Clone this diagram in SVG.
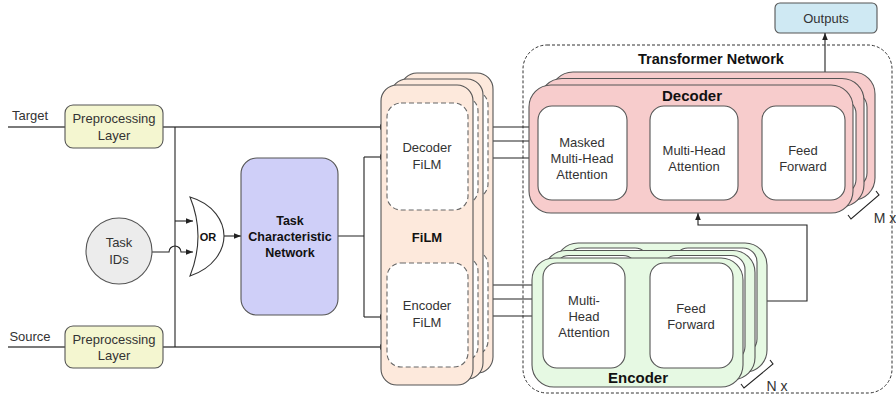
<svg xmlns="http://www.w3.org/2000/svg" xmlns:xlink="http://www.w3.org/1999/xlink" width="896" height="398" viewBox="0 0 896 398">
<style>
text{font-family:"Liberation Sans",Arial,sans-serif;fill:#333;text-anchor:middle}
.t13{font-size:13px}
.b{font-weight:bold;fill:#111}
.ln{fill:none;stroke:#222;stroke-width:1.1}
.main{fill:none;stroke:#7a7a7a;stroke-width:1.8}
.dash{fill:#fff;stroke:#666;stroke-width:1.1;stroke-dasharray:5,3}
.box{stroke:#555;stroke-width:1.1}
.wb{fill:#fff;stroke:#555;stroke-width:1.1}
</style>
<defs>
<marker id="ah" viewBox="0 0 8 8" refX="8" refY="4" markerWidth="7" markerHeight="7" markerUnits="userSpaceOnUse" orient="auto">
<path d="M0,0.8 L8,4 L0,7.2 Z" fill="#222"/>
</marker>
<g id="filmLayer">
<rect class="box" x="381" y="85" width="92" height="300" rx="16" fill="#fde9dc"/>
<rect class="dash" x="387" y="103" width="81" height="107" rx="14"/>
<rect class="dash" x="387" y="263" width="81" height="104" rx="14"/>
</g>
<g id="decLayer">
<rect class="box" x="529" y="85" width="324" height="128" rx="22" fill="#f7cccc"/>
<rect class="wb" x="538" y="106" width="89" height="94" rx="14"/>
<rect class="wb" x="650" y="106" width="88" height="94" rx="14"/>
<rect class="wb" x="762" y="106" width="83" height="94" rx="14"/>
</g>
<g id="encLayer">
<rect class="box" x="532" y="258" width="211" height="129" rx="22" fill="#e6f9e3"/>
<rect class="wb" x="543" y="263" width="82" height="105" rx="14"/>
<rect class="wb" x="650" y="263" width="83" height="105" rx="14"/>
</g>
</defs>

<g id="transformer-boundary">
<rect x="523" y="45" width="369" height="348" rx="24" fill="none" stroke="#333" stroke-width="1" stroke-dasharray="3,2"/>
<text class="b" x="711" y="64" style="font-size:14.5px">Transformer Network</text>
</g>

<g id="outputs">
<rect class="box" x="775" y="3" width="102" height="30" rx="5" fill="#cfe9f3"/>
<text class="t13" x="826" y="23">Outputs</text>
</g>

<g id="target-label"><text class="t13" x="30" y="120">Target</text></g>
<g id="source-label"><text class="t13" x="30" y="341">Source</text></g>

<g id="connectors">
<path class="main" d="M8,127 H65"/>
<path class="main" d="M163,127 H387" marker-end="url(#ah)"/>
<path class="main" d="M8,347 H65"/>
<path class="main" d="M163,347 H387" marker-end="url(#ah)"/>
<path class="ln" d="M175,127 V347"/>
<path class="ln" d="M175,221 H193" marker-end="url(#ah)"/>
<path class="ln" d="M152,252 H169 A6,6 0 0 1 181,252 H193" marker-end="url(#ah)"/>
<path class="ln" d="M224,236 H241" marker-end="url(#ah)"/>
<path class="ln" d="M338,236 H364 M364,157 V317"/>
<path class="ln" d="M364,157 H387" marker-end="url(#ah)"/>
<path class="ln" d="M364,317 H387" marker-end="url(#ah)"/>
<path class="ln" d="M490,127 H529 M478,141 H529"/>
<path class="ln" d="M468,158 H538" marker-end="url(#ah)"/>
<path class="ln" d="M489,285 H532 M478,299 H532"/>
<path class="ln" d="M468,316 H543" marker-end="url(#ah)"/>
<path class="ln" d="M767,301 H807 V225 H698 V213" marker-end="url(#ah)"/>
<path class="ln" d="M825,72 V33" marker-end="url(#ah)"/>
<path class="ln" d="M627,157 H650" marker-end="url(#ah)"/>
<path class="ln" d="M738,157 H762" marker-end="url(#ah)"/>
<path class="ln" d="M625,316 H650" marker-end="url(#ah)"/>
</g>

<g id="target-preprocessing">
<rect class="box" x="65" y="105" width="98" height="43" rx="8" fill="#f4f6d0"/>
<text class="t13" x="114" y="123">Preprocessing</text>
<text class="t13" x="114" y="140">Layer</text>
</g>

<g id="source-preprocessing">
<rect class="box" x="65" y="326" width="98" height="42" rx="8" fill="#f4f6d0"/>
<text class="t13" x="114" y="344">Preprocessing</text>
<text class="t13" x="114" y="360">Layer</text>
</g>

<g id="task-ids">
<circle cx="119" cy="251" r="33" fill="#ececec" stroke="#555" stroke-width="1.1"/>
<text class="t13" x="119" y="247">Task</text>
<text class="t13" x="119" y="264">IDs</text>
</g>

<g id="or-gate">
<path d="M190,197 C214,204 224,222 224,236 C224,250 214,268 190,276 Q206,236 190,197 Z" fill="#fff" stroke="#333" stroke-width="1.1"/>
<text class="b" x="208" y="241" style="font-size:11px">OR</text>
</g>

<g id="task-characteristic-network">
<rect class="box" x="241" y="158" width="97" height="157" rx="16" fill="#cfcff8"/>
<text class="b" x="290" y="225" style="font-size:12.5px">Task</text>
<text class="b" x="290" y="241" style="font-size:12.5px">Characteristic</text>
<text class="b" x="290" y="257" style="font-size:12.5px">Network</text>
</g>

<g id="film">
<use xlink:href="#filmLayer" transform="translate(20,-12)"/>
<use xlink:href="#filmLayer" transform="translate(10,-6)"/>
<use xlink:href="#filmLayer"/>
<text class="t13" x="427" y="152">Decoder</text>
<text class="t13" x="427" y="169">FiLM</text>
<text class="b" x="427" y="242" style="font-size:13px">FiLM</text>
<text class="t13" x="427" y="310">Encoder</text>
<text class="t13" x="427" y="327">FiLM</text>
</g>

<g id="decoder">
<use xlink:href="#decLayer" transform="translate(22,-13)"/>
<use xlink:href="#decLayer" transform="translate(11,-6.5)"/>
<use xlink:href="#decLayer"/>
<text class="b" x="692" y="101" style="font-size:15px">Decoder</text>
<text class="t13" x="582" y="147">Masked</text>
<text class="t13" x="582" y="163">Multi-Head</text>
<text class="t13" x="582" y="179">Attention</text>
<text class="t13" x="694" y="155">Multi-Head</text>
<text class="t13" x="694" y="171">Attention</text>
<text class="t13" x="803" y="155">Feed</text>
<text class="t13" x="803" y="171">Forward</text>
<path class="ln" d="M848,215 L851,219 L879,195 L876,191"/>
<text class="t13" x="885" y="223" style="font-size:14px">M x</text>
</g>

<g id="encoder">
<use xlink:href="#encLayer" transform="translate(24,-15)"/>
<use xlink:href="#encLayer" transform="translate(12,-7.5)"/>
<use xlink:href="#encLayer"/>
<text class="b" x="638" y="383" style="font-size:15px">Encoder</text>
<text class="t13" x="584" y="305">Multi-</text>
<text class="t13" x="584" y="321">Head</text>
<text class="t13" x="584" y="337">Attention</text>
<text class="t13" x="691" y="313">Feed</text>
<text class="t13" x="691" y="329">Forward</text>
<path class="ln" d="M741,384 L744,388 L773,364 L770,360"/>
<text class="t13" x="777" y="391" style="font-size:14px">N x</text>
</g>
</svg>
